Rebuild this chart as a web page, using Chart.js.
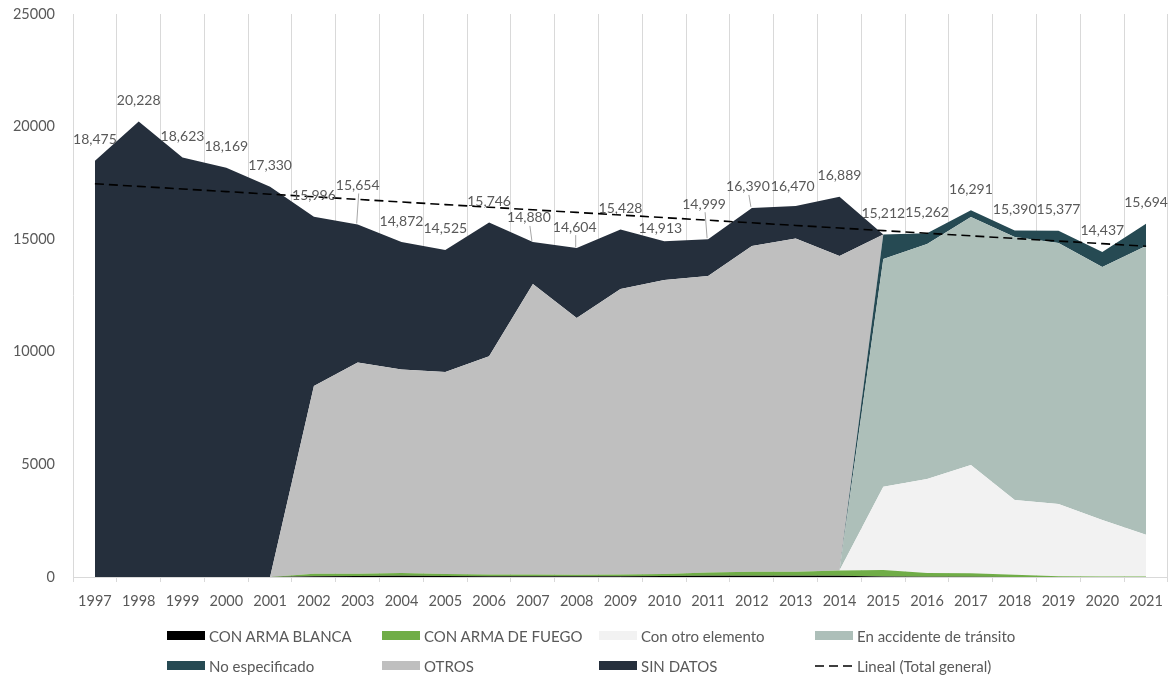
<!DOCTYPE html>
<html>
<head>
<meta charset="utf-8">
<script src="https://cdn.jsdelivr.net/npm/chart.js@4.4.1/dist/chart.umd.min.js"></script>
<style>
  html, body { margin: 0; padding: 0; background: #ffffff; }
  #wrap { position: relative; width: 1174px; height: 676px; }
  #c { position: absolute; left: 0; top: 0; }
  .lg { position: absolute; font-family: Lato, "Open Sans", sans-serif; font-size: 15px; color: #595959; white-space: nowrap; line-height: 18px; }
  .lg .box { position: absolute; left: 0; top: 4.5px; width: 38px; height: 9px; }
  .lg .txt { position: absolute; left: 42px; top: 0; }
</style>
</head>
<body>
<div id="wrap">
  <canvas id="c" width="1174" height="676"></canvas>
  <div id="legend"></div>
</div>
<script>
// ---- Data ----
const years = ['1997','1998','1999','2000','2001','2002','2003','2004','2005','2006','2007','2008','2009','2010','2011','2012','2013','2014','2015','2016','2017','2018','2019','2020','2021'];

const conArmaBlanca   = [0,0,0,0,0,30,40,50,40,30,30,30,30,40,50,60,60,50,20,10,10,5,5,5,5];
const conArmaDeFuego  = [0,0,0,0,0,110,100,130,90,80,80,70,80,90,150,170,170,240,290,170,160,90,30,15,15];
const conOtroElemento = [0,0,0,0,0,0,0,0,0,0,0,0,0,0,0,0,0,0,3700,4170,4800,3325,3205,2510,1850];
const enAccidente     = [0,0,0,0,0,0,0,0,0,0,0,0,0,0,0,0,0,0,10110,10440,11020,11680,11590,11240,12830];
const noEspecificado  = [0,0,0,0,0,0,0,0,0,0,0,0,0,0,0,0,0,0,1092,472,301,290,547,667,994];
const otros           = [0,0,0,0,0,8340,9380,9030,8970,9690,12900,11400,12680,13060,13170,14470,14800,13960,0,0,0,0,0,0,0];
const sinDatos        = [18475,20228,18623,18169,17330,7516,6134,5662,5425,5946,1870,3104,2638,1723,1629,1690,1440,2639,0,0,0,0,0,0,0];

// Totals shown as data labels
const totalGeneral = [18475,20228,18623,18169,17330,15996,15654,14872,14525,15746,14880,14604,15428,14913,14999,16390,16470,16889,15212,15262,16291,15390,15377,14437,15694];

// Y axis tick values
const yTicks = [0,5000,10000,15000,20000,25000];

// Linear trend (least squares of Total general), as Excel's "Lineal" trendline
const trend = (function(){
  const n = totalGeneral.length;
  let sx=0, sy=0, sxx=0, sxy=0;
  totalGeneral.forEach((y,i)=>{ sx+=i; sy+=y; sxx+=i*i; sxy+=i*y; });
  const b = (n*sxy - sx*sy)/(n*sxx - sx*sx);
  const a = (sy - b*sx)/n;
  return totalGeneral.map((_,i)=> a + b*i);
})();

// ---- Styles ----
const C = {
  blanca: '#000000',
  fuego: '#70ad47',
  otro: '#f2f2f2',
  accidente: '#adbfb9',
  noesp: '#264a53',
  otros: '#bfbfbf',
  sindatos: '#252f3c'
};

// Label placement tweaks (pixels; styling only): [dx, dy, leader line]
const LABEL_DY = -21;
const labelTweak = {
  '2003': [0, -39, true],
  '2007': [-4, -24, true],
  '2008': [-2, -21, true],
  '2010': [-4, -13, false],
  '2011': [-4, -35, true],
  '2012': [-4, -21, true],
  '2013': [-3, -20, false]
};

function area(label, data, color, first) {
  return {
    label, data,
    backgroundColor: color,
    borderColor: color,
    borderWidth: 0,
    pointRadius: 0,
    tension: 0,
    fill: first ? 'origin' : '-1'
  };
}

const datasets = [
  area('CON ARMA BLANCA', conArmaBlanca, C.blanca, true),
  area('CON ARMA DE FUEGO', conArmaDeFuego, C.fuego, false),
  area('Con otro elemento', conOtroElemento, C.otro, false),
  area('En accidente de tránsito', enAccidente, C.accidente, false),
  area('No especificado', noEspecificado, C.noesp, false),
  area('OTROS', otros, C.otros, false),
  area('SIN DATOS', sinDatos, C.sindatos, false),
  {
    label: 'Lineal (Total general)',
    data: trend,
    stack: 'trend',
    borderColor: '#000000',
    borderWidth: 1.6,
    borderDash: [9, 5],
    pointRadius: 0,
    fill: false,
    order: -1
  }
];

const totalsLabels = {
  id: 'totalsLabels',
  afterDatasetsDraw(chart) {
    const ctx = chart.ctx;
    const xs = chart.scales.x, ys = chart.scales.y;
    ctx.save();
    ctx.font = '14px Lato, "Open Sans", sans-serif';
    ctx.textAlign = 'center';
    ctx.textBaseline = 'middle';
    totalGeneral.forEach((v, i) => {
      const t = labelTweak[years[i]] || [0, LABEL_DY, false];
      const px = xs.getPixelForValue(i);
      const py = ys.getPixelForValue(v);
      const x = px + t[0];
      const y = py + t[1];
      if (t[2]) {
        ctx.strokeStyle = '#a6a6a6';
        ctx.lineWidth = 1;
        ctx.beginPath();
        ctx.moveTo(x + 1, y + 8);
        ctx.lineTo(px - 1, py - 1);
        ctx.stroke();
      }
      ctx.fillStyle = '#595959';
      ctx.fillText(v.toLocaleString('en-US'), x, y);
    });
    ctx.restore();
  }
};

new Chart(document.getElementById('c'), {
  type: 'line',
  data: { labels: years, datasets },
  plugins: [totalsLabels],
  options: {
    responsive: false,
    animation: false,
    events: [],
    layout: { padding: { top: 14, right: 4, left: 0, bottom: 0 } },
    plugins: { legend: { display: false }, tooltip: { enabled: false } },
    scales: {
      x: {
        offset: true,
        grid: { offset: true, color: '#d9d9d9', lineWidth: 1, drawTicks: true, tickLength: 5 },
        border: { color: '#d9d9d9' },
        ticks: { color: '#595959', font: { family: 'Lato, "Open Sans", sans-serif', size: 14.5 }, padding: 11, maxRotation: 0, autoSkip: false },
        afterFit(s) { s.height = 99; }
      },
      y: {
        stacked: true,
        min: 0, max: 25000,
        afterBuildTicks(s) { s.ticks = yTicks.map(v => ({ value: v })); },
        grid: { display: true, drawOnChartArea: false, drawTicks: true, tickLength: 17, color: 'rgba(0,0,0,0)' },
        border: { display: false },
        ticks: { color: '#595959', font: { family: 'Lato, "Open Sans", sans-serif', size: 14.5 }, padding: 1, callback: v => String(v) },
        afterFit(s) { s.width = 73; }
      }
    }
  }
});

// ---- Legend (fixed 4-column grid as in the reference) ----
const legendItems = [
  ['CON ARMA BLANCA', C.blanca], ['CON ARMA DE FUEGO', C.fuego], ['Con otro elemento', C.otro], ['En accidente de tránsito', C.accidente],
  ['No especificado', C.noesp], ['OTROS', C.otros], ['SIN DATOS', C.sindatos], ['Lineal (Total general)', null]
];
const colX = [167, 382, 599, 815];
const rowY = [626.5, 656.5];
const lg = document.getElementById('legend');
legendItems.forEach((it, k) => {
  const d = document.createElement('div');
  d.className = 'lg';
  d.style.left = colX[k % 4] + 'px';
  d.style.top = rowY[Math.floor(k / 4)] + 'px';
  let mark;
  if (it[1]) {
    mark = '<div class="box" style="background:' + it[1] + '"></div>';
  } else {
    mark = '<svg style="position:absolute;left:0;top:0" width="38" height="18"><line x1="0" y1="9" x2="38" y2="9" stroke="#000" stroke-width="1.6" stroke-dasharray="9,5"/></svg>';
  }
  d.innerHTML = mark + '<span class="txt">' + it[0] + '</span>';
  lg.appendChild(d);
});
</script>
</body>
</html>
